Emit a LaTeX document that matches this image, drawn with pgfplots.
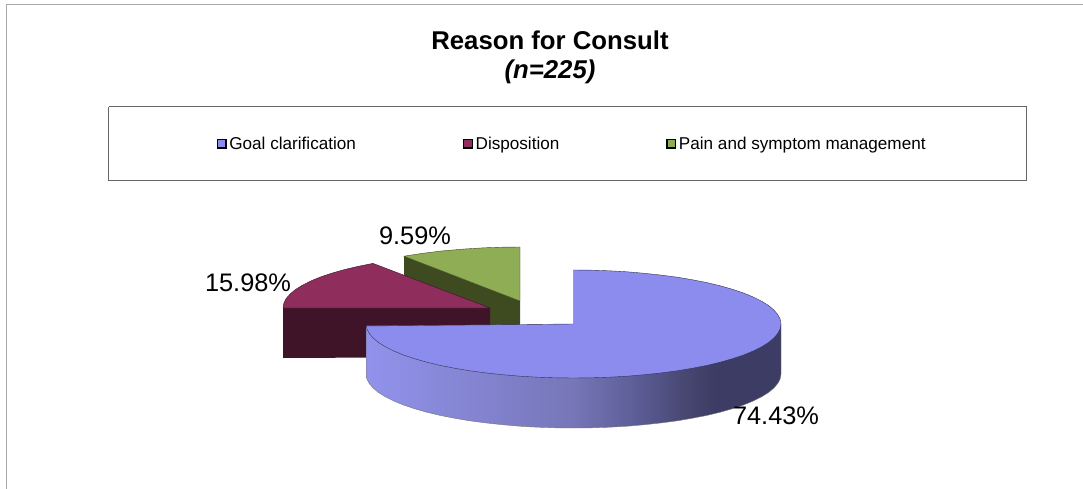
\documentclass[border=0pt]{standalone}
\usepackage{fontspec}
\setmainfont{Liberation Sans}
\usepackage{pgfplots}
\pgfplotsset{compat=1.18}

\definecolor{bluetop}{HTML}{8C8CEE}
\definecolor{redtop}{HTML}{8F2D5D}
\definecolor{redside}{HTML}{3F1328}
\definecolor{greentop}{HTML}{8FAD55}
\definecolor{greenside}{HTML}{3E4A1F}
\definecolor{framegray}{HTML}{A8A8A8}
\definecolor{boxgray}{HTML}{666666}
\definecolor{wallA}{HTML}{9292EC}
\definecolor{wallB}{HTML}{7676B8}
\definecolor{wallC}{HTML}{5B5B94}
\definecolor{wallD}{HTML}{45456F}
\definecolor{wallE}{HTML}{3C3C64}

\pgfdeclarehorizontalshading{bluewall}{100bp}{
  color(0bp)=(wallA); color(25bp)=(wallA); color(50bp)=(wallB);
  color(58bp)=(wallC); color(64bp)=(wallD); color(67bp)=(wallE); color(100bp)=(wallE)}

\begin{document}
\begin{tikzpicture}
\begin{axis}[
    width=812.25pt, height=366.75pt, scale only axis,
    xmin=0, xmax=1083, ymin=0, ymax=489, y dir=reverse,
    hide axis, no markers,
    legend style={at={(axis cs:216.7,144.3)}, anchor=west, draw=none, fill=none,
      font=\fontsize{12.85pt}{15pt}\selectfont, legend columns=3,
      inner sep=0pt, outer sep=0pt,
      /tikz/every even column/.style={column sep=0pt}},
    legend image code/.code={\draw[#1,draw=black,line width=1.1pt] (0pt,-2.8pt) rectangle (6.4pt,3.6pt);},
]
\addlegendimage{fill=bluetop}
\addlegendimage{fill=redtop}
\addlegendimage{fill=greentop}
\addlegendentry{\makebox[173.2pt][l]{Goal clarification}}
\addlegendentry{\makebox[141pt][l]{Disposition}}
\addlegendentry{Pain and symptom management}

% page extent
\addplot[draw=none] coordinates {(0,0) (1083,489)};
% outer frame and legend box
\addplot[framegray, line width=0.75pt] coordinates {(6,489) (6,4.5) (1083,4.5)};
\addplot[boxgray, line width=0.75pt] coordinates {(108.5,106.5) (1026.5,106.5) (1026.5,180.5) (108.5,180.5) (108.5,106.5)};

% green slice
\addplot[fill=greenside, draw=none] coordinates {(404,256.2) (520,301) (520,351) (404,306)} -- cycle;
\addplot[fill=greentop, draw=greenside, line width=0.3pt] coordinates {(520,301) (404,256.2) (422.8,253.3) (442.5,250.9) (463,249.1) (484.1,247.8) (502,247.2) (520,247)} -- cycle;

% red slice
\addplot[fill=redside, draw=none] coordinates {(283,308) (283,358) (490,357) (490,308)} -- cycle;
\addplot[fill=redtop, draw=redside, line width=0.3pt] coordinates {(490,308) (283,308) (283.8,303.3) (286.1,298.6) (290.1,294) (295.5,289.5) (302.4,285.2) (310.7,281) (320.4,277) (331.4,273.3) (343.6,269.8) (357,266.6) (373,263.4)} -- cycle;

% blue slice, wall then top
\addplot[shading=bluewall, draw=black!55, line width=0.3pt] coordinates {(366.5,326) (366.5,376) (366.8,378.7) (369.2,383.4) (373.1,388) (378.5,392.5) (385.4,396.8) (393.8,401) (403.5,405) (414.5,408.7) (426.8,412.2) (440.1,415.4) (454.5,418.2) (469.7,420.8) (485.8,422.9) (502.5,424.7) (519.8,426.2) (537.5,427.2) (555.4,427.8) (573.5,428) (591.6,427.8) (609.5,427.2) (627.2,426.2) (644.5,424.7) (661.2,422.9) (677.3,420.8) (692.5,418.2) (706.9,415.4) (720.2,412.2) (732.5,408.7) (743.5,405) (753.2,401) (761.6,396.8) (768.5,392.5) (773.9,388) (777.8,383.4) (780.2,378.7) (781,374) (781,324)} -- cycle;
\addplot[fill=bluetop, draw=black!65!bluetop, line width=0.3pt] coordinates {(573.5,324) (573.5,270) (591.6,270.2) (609.5,270.8) (627.2,271.8) (644.5,273.3) (661.2,275.1) (677.3,277.2) (692.5,279.8) (706.9,282.6) (720.2,285.8) (732.5,289.3) (743.5,293) (753.2,297) (761.6,301.2) (768.5,305.5) (773.9,310) (777.8,314.6) (780.2,319.3) (781,324) (780.2,328.7) (777.8,333.4) (773.9,338) (768.5,342.5) (761.6,346.8) (753.2,351) (743.5,355) (732.5,358.7) (720.2,362.2) (706.9,365.4) (692.5,368.2) (677.3,370.8) (661.2,372.9) (644.5,374.7) (627.2,376.2) (609.5,377.2) (591.6,377.8) (573.5,378) (555.4,377.8) (537.5,377.2) (519.8,376.2) (502.5,374.7) (485.8,372.9) (469.7,370.8) (454.5,368.2) (440.1,365.4) (426.8,362.2) (414.5,358.7) (403.5,355) (393.8,351) (385.4,346.8) (378.5,342.5) (373.1,338) (369.2,333.4) (366.8,328.7) (366.5,326)} -- cycle;

% title
\node[font=\bfseries\fontsize{19.3pt}{22pt}\selectfont, anchor=base] at (axis cs:550,50) {Reason for Consult};
\node[font=\bfseries\itshape\fontsize{19.3pt}{22pt}\selectfont, anchor=base] at (axis cs:550,78.5) {(n=225)};

% data labels
\node[font=\fontsize{19pt}{22pt}\selectfont, anchor=base] at (axis cs:415,244) {9.59\%};
\node[font=\fontsize{19pt}{22pt}\selectfont, anchor=base] at (axis cs:248,291) {15.98\%};
\node[font=\fontsize{19pt}{22pt}\selectfont, anchor=base] at (axis cs:776,424.5) {74.43\%};
\end{axis}
\end{tikzpicture}
\end{document}
